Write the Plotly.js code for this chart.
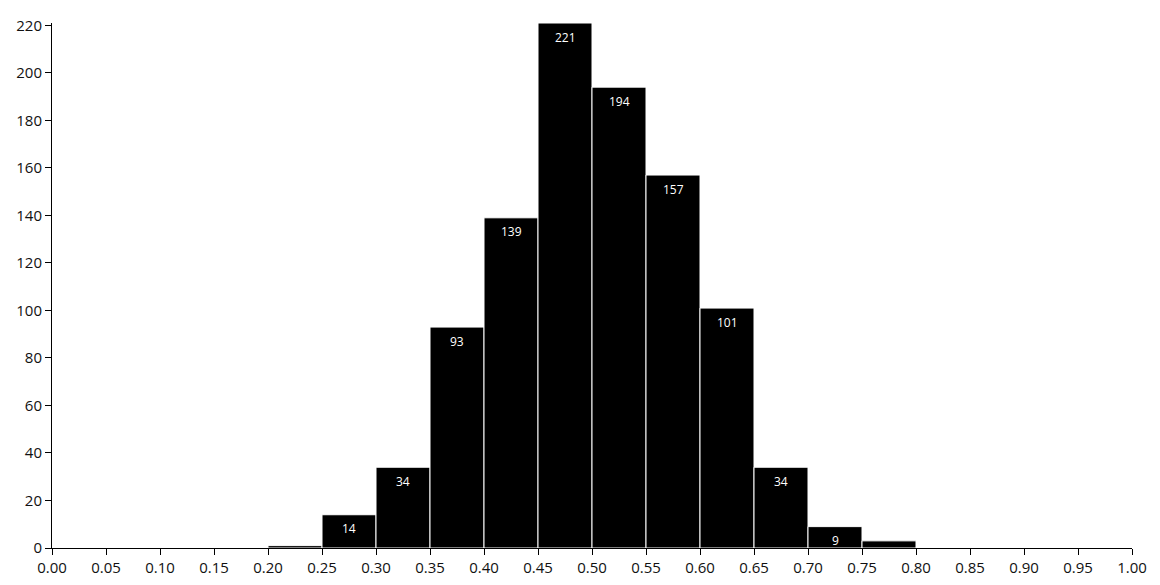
<!DOCTYPE html>
<html>
<head>
<meta charset="utf-8">
<script src="https://cdn.plot.ly/plotly-3.0.1.min.js"></script>
<style>html,body{margin:0;padding:0;background:#fff;}#chart{width:1160px;height:585px;}</style>
</head>
<body>
<div id="chart"></div>
<script>
const binStarts = [0.20, 0.25, 0.30, 0.35, 0.40, 0.45, 0.50, 0.55, 0.60, 0.65, 0.70, 0.75];
const binWidth = 0.05;
const counts = [1, 14, 34, 93, 139, 221, 194, 157, 101, 34, 9, 3];

const centers = binStarts.map(s => s + binWidth / 2);

const trace = {
  type: 'bar',
  x: centers,
  y: counts,
  width: binStarts.map(() => binWidth),
  marker: {color: '#000', line: {color: '#fff', width: 1}},
  hoverinfo: 'x+y'
};

const annotations = counts.map((c, i) => c >= 5 ? {
  x: centers[i], y: c, xref: 'x', yref: 'y',
  text: String(c), showarrow: false,
  yanchor: 'middle', yshift: -14,
  font: {family: 'Open Sans, Noto Sans, sans-serif', size: 12, color: '#fff'}
} : null).filter(a => a);

const layout = {
  width: 1160, height: 585,
  margin: {l: 52, r: 28, t: 23, b: 37},
  paper_bgcolor: '#fff', plot_bgcolor: '#fff',
  font: {family: 'Open Sans, Noto Sans, sans-serif', size: 15, color: '#111'},
  showlegend: false,
  bargap: 0,
  xaxis: {
    range: [0, 1], dtick: 0.05, tick0: 0, tickformat: '.2f',
    showgrid: false, zeroline: false, showline: true, linecolor: '#000', linewidth: 1,
    ticks: 'outside', ticklen: 6, tickcolor: '#000', tickwidth: 1,
    tickfont: {size: 15}
  },
  yaxis: {
    range: [0, 221], dtick: 20, tick0: 0,
    showgrid: false, zeroline: false, showline: true, linecolor: '#000', linewidth: 1,
    ticks: 'outside', ticklen: 6, tickcolor: '#000', tickwidth: 1,
    tickfont: {size: 15}
  },
  annotations: annotations
};

Plotly.newPlot('chart', [trace], layout, {displayModeBar: false, staticPlot: true});
</script>
</body>
</html>
